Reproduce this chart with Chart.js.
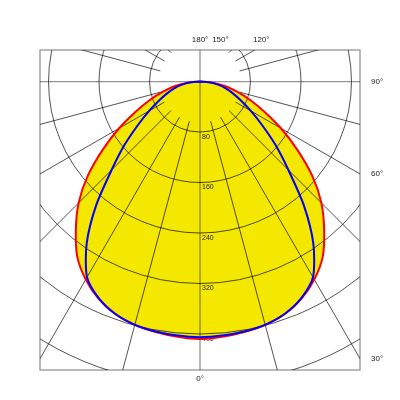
<!DOCTYPE html>
<html>
<head>
<meta charset="utf-8">
<script src="https://cdn.jsdelivr.net/npm/chart.js@4.4.1/dist/chart.umd.min.js"></script>
<style>
  body { margin: 0; background: #fff; }
</style>
</head>
<body>
<canvas id="myChart" width="400" height="400"></canvas>
<script>
// gamma angles (deg) and luminous intensity (cd) for the two C-planes
const angles = [0, 5, 10, 15, 20, 25, 30, 35, 40, 45, 50, 55, 60, 65, 70, 75, 80, 85, 90];
const c0Values = [408, 406, 403, 399, 392, 380, 362, 339, 306, 272, 232, 188, 148, 112, 84, 60, 40, 20, 0];
const c90Values = [405, 404, 402, 399, 392, 379, 358, 313, 256, 198, 156, 120, 93, 72, 56, 43, 30, 15, 0];

// grid rings (cd) and their labels
const ringValues = [80, 160, 240, 320, 400, 480];
const ringLabels = ['80', '160', '240', '320', '400'];
// angle labels around the frame
const rightTicks = [90, 60, 30];
const topTicks = [180, 150, 120];
const bottomTicks = [0];

const rad = d => d * Math.PI / 180;

// polar -> xy, left half then right half, 0 deg points down
function curve(vals) {
  const pts = [];
  for (let i = angles.length - 1; i > 0; i--) {
    pts.push({x: -vals[i] * Math.sin(rad(angles[i])), y: -vals[i] * Math.cos(rad(angles[i]))});
  }
  for (let i = 0; i < angles.length; i++) {
    pts.push({x: vals[i] * Math.sin(rad(angles[i])), y: -vals[i] * Math.cos(rad(angles[i]))});
  }
  return pts;
}

const polarGrid = {
  id: 'polarGrid',
  afterDatasetDraw(chart, args) {
    if (chart.data.datasets[args.index].label !== 'area') return;
    const {ctx, chartArea: a, scales: {x, y}} = chart;
    const cx = x.getPixelForValue(0), cy = y.getPixelForValue(0);
    const px = v => x.getPixelForValue(v) - cx;
    ctx.save();
    ctx.beginPath();
    ctx.rect(a.left, a.top, a.right - a.left, a.bottom - a.top);
    ctx.clip();

    ctx.strokeStyle = 'rgba(0,0,0,0.68)';
    ctx.lineWidth = 1;
    ringValues.forEach(v => {
      ctx.beginPath();
      ctx.arc(cx, cy, px(v), 0, Math.PI * 2);
      ctx.stroke();
    });
    const r0 = px(65);
    for (let g = 0; g < 360; g += 15) {
      if (g % 90 === 0) continue;
      const s = Math.sin(rad(g)), c = Math.cos(rad(g));
      ctx.beginPath();
      ctx.moveTo(cx + r0 * s, cy + r0 * c);
      ctx.lineTo(cx + 800 * s, cy + 800 * c);
      ctx.stroke();
    }
    // vertical 0-180 line
    ctx.strokeStyle = 'rgba(0,0,0,0.55)';
    ctx.beginPath();
    ctx.moveTo(cx, a.top);
    ctx.lineTo(cx, a.bottom);
    ctx.stroke();
    // horizontal 90 line
    ctx.strokeStyle = 'rgba(0,0,0,0.42)';
    ctx.lineWidth = 1.3;
    ctx.beginPath();
    ctx.moveTo(a.left, cy);
    ctx.lineTo(a.right, cy);
    ctx.stroke();

    ctx.fillStyle = '#222';
    ctx.font = '7px "Liberation Sans", Arial, sans-serif';
    ctx.textAlign = 'left';
    ctx.textBaseline = 'middle';
    ringLabels.forEach((t, i) => {
      ctx.fillText(t, cx + 2, cy + px(ringValues[i]) + 5);
    });
    ctx.restore();
  },
  afterDraw(chart) {
    const {ctx, chartArea: a, scales: {x, y}} = chart;
    const cx = x.getPixelForValue(0), cy = y.getPixelForValue(0);
    ctx.save();
    ctx.strokeStyle = 'rgba(0,0,0,0.42)';
    ctx.lineWidth = 1.3;
    ctx.strokeRect(a.left, a.top, a.right - a.left, a.bottom - a.top);

    ctx.fillStyle = '#222';
    ctx.font = '8px "Liberation Sans", Arial, sans-serif';
    ctx.textBaseline = 'middle';
    ctx.textAlign = 'left';
    rightTicks.forEach(g => {
      const ty = g === 90 ? cy : cy + (a.right - cx) / Math.tan(rad(g));
      ctx.fillText(g + '°', a.right + 11, ty);
    });
    ctx.textAlign = 'center';
    topTicks.forEach(g => {
      const hx = cx + (cy - a.top) * Math.tan(rad(180 - g));
      ctx.fillText(g + '°', hx + (hx - cx) * 0.12, a.top - 10);
    });
    bottomTicks.forEach(g => {
      ctx.fillText(g + '°', cx, a.bottom + 9);
    });
    ctx.restore();
  }
};

const ctx = document.getElementById('myChart').getContext('2d');
const ldcChart = new Chart(ctx, {
  type: 'scatter',
  data: {
    datasets: [
      {
        label: 'C90-C270',
        data: curve(c90Values),
        showLine: true,
        borderColor: '#0000ff',
        borderWidth: 2,
        pointRadius: 0,
        tension: 0.25,
        fill: false,
        order: 1
      },
      {
        label: 'C0-C180',
        data: curve(c0Values),
        showLine: true,
        borderColor: '#ff0000',
        borderWidth: 2,
        pointRadius: 0,
        tension: 0.25,
        fill: false,
        order: 2
      },
      {
        label: 'area',
        data: curve(c0Values),
        showLine: true,
        borderWidth: 0,
        borderColor: 'rgba(0,0,0,0)',
        backgroundColor: '#f4e700',
        pointRadius: 0,
        tension: 0.25,
        fill: 'shape',
        order: 3
      }
    ]
  },
  options: {
    responsive: false,
    animation: false,
    devicePixelRatio: 1,
    layout: { padding: { left: 40, right: 40, top: 50, bottom: 30 } },
    scales: {
      x: { type: 'linear', min: -253.5, max: 253.5, display: false },
      y: { type: 'linear', min: -457, max: 50, display: false }
    },
    plugins: {
      legend: { display: false },
      tooltip: { enabled: false }
    }
  },
  plugins: [polarGrid]
});
</script>
</body>
</html>
